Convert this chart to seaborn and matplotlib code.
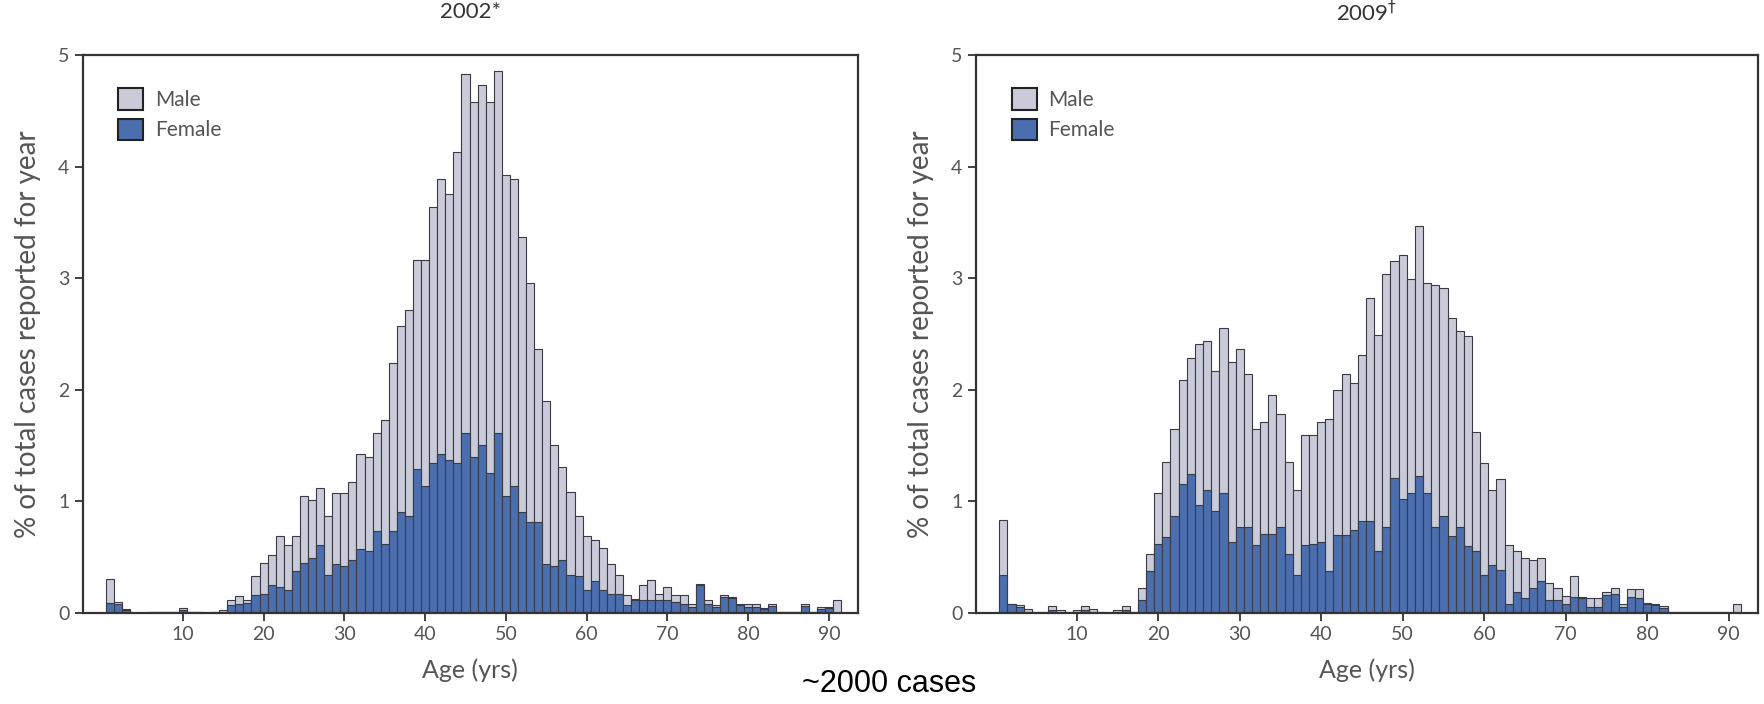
import pandas as pd
import matplotlib.pyplot as plt
import seaborn as sns
from matplotlib.patches import Patch

# age in years, one bar per year
ages = list(range(1, 92))

# % of total cases, 2002 (total bar height, female part)
total_2002 = [0.30, 0.10, 0.03, 0.00, 0.00, 0.01, 0.01, 0.01, 0.01, 0.04,
              0.01, 0.01, 0.00, 0.01, 0.02, 0.11, 0.15, 0.11, 0.33, 0.45,
              0.52, 0.69, 0.61, 0.69, 1.05, 1.01, 1.12, 0.87, 1.07, 1.07,
              1.17, 1.42, 1.40, 1.61, 1.73, 2.24, 2.57, 2.71, 3.16, 3.16,
              3.64, 3.89, 3.75, 4.13, 4.83, 4.58, 4.73, 4.58, 4.86, 3.92,
              3.89, 3.37, 2.96, 2.36, 1.90, 1.50, 1.31, 1.08, 0.87, 0.69,
              0.65, 0.58, 0.44, 0.34, 0.16, 0.12, 0.25, 0.29, 0.17, 0.23,
              0.16, 0.16, 0.08, 0.26, 0.11, 0.07, 0.16, 0.14, 0.08, 0.08,
              0.08, 0.04, 0.08, 0.01, 0.01, 0.01, 0.08, 0.01, 0.05, 0.05,
              0.11]
female_2002 = [0.09, 0.08, 0.02, 0.00, 0.00, 0.01, 0.01, 0.01, 0.01, 0.02,
               0.01, 0.01, 0.00, 0.01, 0.01, 0.07, 0.08, 0.09, 0.16, 0.17,
               0.25, 0.23, 0.20, 0.37, 0.45, 0.49, 0.61, 0.34, 0.44, 0.42,
               0.47, 0.57, 0.55, 0.73, 0.62, 0.73, 0.90, 0.87, 1.29, 1.14,
               1.34, 1.42, 1.37, 1.34, 1.61, 1.40, 1.50, 1.25, 1.61, 1.05,
               1.14, 0.90, 0.81, 0.81, 0.44, 0.42, 0.47, 0.34, 0.33, 0.20,
               0.28, 0.20, 0.17, 0.17, 0.07, 0.11, 0.11, 0.11, 0.11, 0.11,
               0.10, 0.08, 0.05, 0.25, 0.08, 0.05, 0.14, 0.13, 0.07, 0.05,
               0.05, 0.03, 0.06, 0.01, 0.01, 0.01, 0.06, 0.01, 0.03, 0.04,
               0.00]

# % of total cases, 2009
total_2009 = [0.83, 0.08, 0.07, 0.03, 0.01, 0.01, 0.06, 0.02, 0.01, 0.02,
              0.06, 0.03, 0.01, 0.00, 0.02, 0.06, 0.01, 0.22, 0.53, 1.07,
              1.35, 1.65, 2.09, 2.28, 2.41, 2.44, 2.17, 2.55, 2.25, 2.36,
              2.14, 1.65, 1.71, 1.95, 1.78, 1.35, 1.10, 1.59, 1.59, 1.71,
              1.74, 2.00, 2.14, 2.06, 2.31, 2.82, 2.49, 3.04, 3.15, 3.21,
              2.99, 3.47, 2.96, 2.94, 2.91, 2.64, 2.53, 2.48, 1.62, 1.34,
              1.10, 1.20, 0.61, 0.55, 0.49, 0.47, 0.49, 0.27, 0.22, 0.15,
              0.33, 0.14, 0.13, 0.13, 0.19, 0.22, 0.08, 0.21, 0.21, 0.09,
              0.08, 0.06, 0.01, 0.01, 0.01, 0.01, 0.01, 0.01, 0.01, 0.01,
              0.08]
female_2009 = [0.34, 0.08, 0.05, 0.01, 0.00, 0.00, 0.02, 0.00, 0.00, 0.01,
               0.02, 0.01, 0.00, 0.00, 0.01, 0.02, 0.00, 0.11, 0.37, 0.62,
               0.68, 0.87, 1.15, 1.24, 0.97, 1.10, 0.91, 1.07, 0.63, 0.77,
               0.77, 0.61, 0.71, 0.71, 0.77, 0.53, 0.34, 0.61, 0.62, 0.63,
               0.37, 0.70, 0.70, 0.74, 0.82, 0.82, 0.55, 0.77, 1.21, 1.02,
               1.07, 1.23, 1.07, 0.77, 0.87, 0.69, 0.77, 0.60, 0.55, 0.34,
               0.43, 0.38, 0.08, 0.19, 0.13, 0.22, 0.28, 0.11, 0.11, 0.08,
               0.14, 0.13, 0.05, 0.05, 0.16, 0.17, 0.05, 0.14, 0.13, 0.08,
               0.07, 0.04, 0.00, 0.00, 0.00, 0.00, 0.00, 0.00, 0.00, 0.00,
               0.00]

titles = ['2002*', '2009$^{\\dagger}$']
x_ticks = [10, 20, 30, 40, 50, 60, 70, 80, 90]
y_ticks = [0, 1, 2, 3, 4, 5]

male_color = '#c9cbd9'
female_color = '#4a6eae'
edge_color = '#3a3a44'
text_gray = '#555555'

sns.set_theme(style='white')
plt.rcParams['font.family'] = ['Lato', 'DejaVu Sans']

W, H = 1765, 704
fig = plt.figure(figsize=(W / 100, H / 100), dpi=100)
ax1 = fig.add_axes([82.7 / W, 1 - 612.7 / H, (858 - 82.7) / W, (612.7 - 55) / H])
ax2 = fig.add_axes([975.7 / W, 1 - 612.7 / H, (1758 - 975.7) / W, (612.7 - 55) / H])

panels = [(ax1, titles[0], total_2002, female_2002, 27),
          (ax2, titles[1], total_2009, female_2009, 24)]

for ax, title, total, female, title_pad in panels:
    df = pd.DataFrame({'age': ages, 'total': total, 'female': female})
    # grey bar = all cases, blue bar in front = female share
    sns.barplot(data=df, x='age', y='total', native_scale=True, width=1,
                color=male_color, saturation=1, edgecolor=edge_color,
                linewidth=0.8, errorbar=None, ax=ax)
    sns.barplot(data=df, x='age', y='female', native_scale=True, width=1,
                color=female_color, saturation=1, edgecolor=edge_color,
                linewidth=0.8, errorbar=None, ax=ax)

    ax.set_xlim(-2.4, 93.6)
    ax.set_ylim(0, 5)
    ax.set_xticks(x_ticks)
    ax.set_yticks(y_ticks)
    ax.tick_params(axis='both', direction='out', length=6, width=1.3,
                   color='#333333', labelsize=14, labelcolor=text_gray,
                   bottom=True, left=True)
    for sp in ax.spines.values():
        sp.set_color('#333333')
        sp.set_linewidth(1.6)

    ax.set_title(title, fontsize=16, color='#333333', pad=title_pad)
    ax.set_xlabel('Age (yrs)', fontsize=18, color=text_gray, labelpad=11)
    ax.set_ylabel('% of total cases reported for year', fontsize=20,
                  color=text_gray, labelpad=12)

    handles = [Patch(facecolor=male_color, edgecolor='#222222', linewidth=1.5, label='Male'),
               Patch(facecolor=female_color, edgecolor='#222222', linewidth=1.5, label='Female')]
    leg = ax.legend(handles=handles, loc='upper left', bbox_to_anchor=(0.046, 0.94),
                    frameon=False, fontsize=15, handlelength=1.2, handleheight=1.2,
                    handletextpad=0.55, labelspacing=0.4, borderpad=0, borderaxespad=0)
    for t in leg.get_texts():
        t.set_color(text_gray)

fig.text(0.504, 0.028, '~2000 cases', ha='center', va='center', fontsize=22,
         color='black', family=['Liberation Sans', 'DejaVu Sans'])

plt.savefig('out.png', dpi=100)
